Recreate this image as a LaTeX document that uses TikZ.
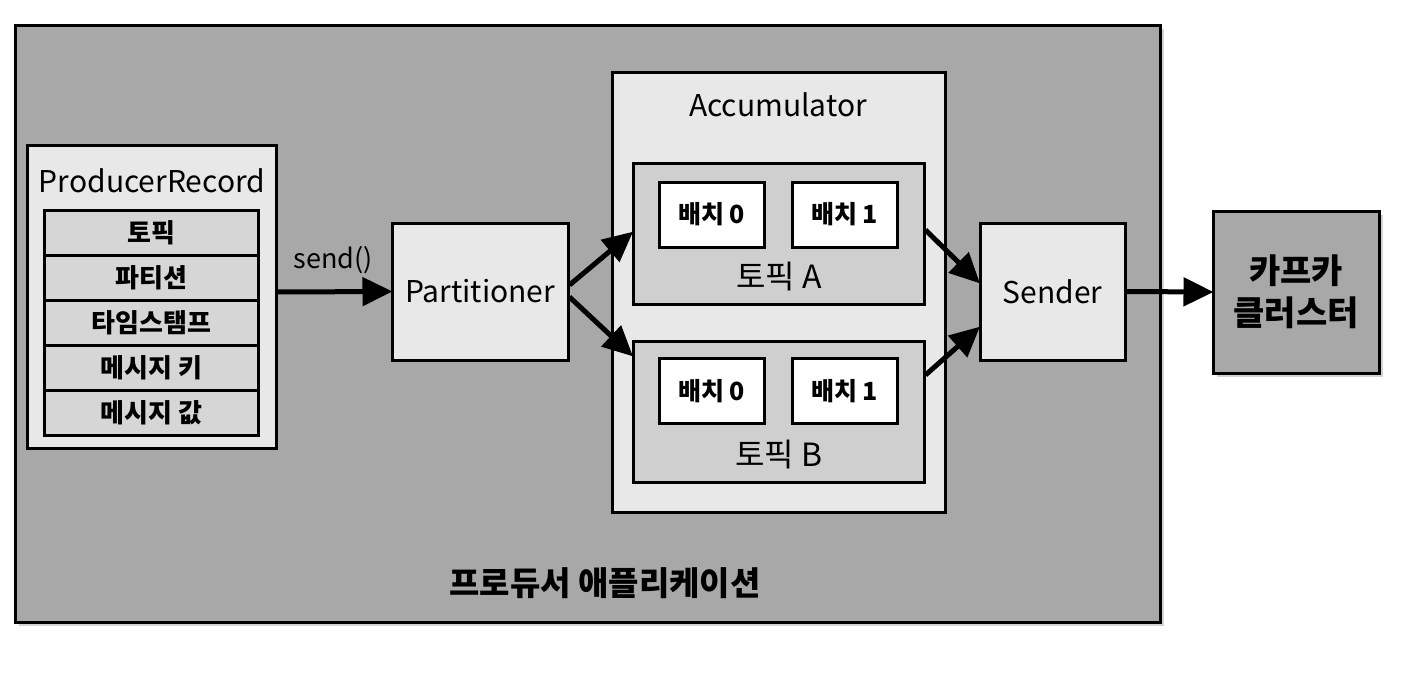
\documentclass[tikz,border=0pt]{standalone}
\usepackage{fontspec}
\setmainfont{Noto Sans CJK KR}
\usetikzlibrary{arrows.meta,shadows}
\definecolor{bgdark}{gray}{0.66}
\definecolor{boxlight}{gray}{0.91}
\definecolor{rowgray}{gray}{0.84}
\definecolor{topicgray}{gray}{0.81}
\tikzset{
  box/.style={draw=black, line width=3pt, inner sep=0pt},
  lbl/.style={font=\fontsize{30}{33}\selectfont, inner sep=0pt},
  row/.style={box, fill=rowgray, minimum width=214pt, minimum height=45pt, font=\bfseries\fontsize{26}{28}\selectfont},
  batch/.style={box, fill=white, minimum width=105pt, minimum height=65pt, font=\bfseries\fontsize{25}{28}\selectfont},
  conn/.style={line width=5pt, -{Triangle[length=30pt,width=28pt]}, shorten >=-2pt},
}
\begin{document}
\begin{tikzpicture}[x=1pt,y=-1pt]
\useasboundingbox (0,0) rectangle (1412,686);
% outer application box
\draw[box, fill=bgdark, drop shadow={opacity=0.35, shadow xshift=4pt, shadow yshift=-4pt}] (15,25) rectangle (1160,622);
\node[font=\bfseries\fontsize{33}{36}\selectfont] (app) at (605,583) {프로듀서 애플리케이션};

% ProducerRecord
\draw[box, fill=boxlight] (27,145) rectangle (276,448);
\node[lbl] (prtitle) at (152,181) {ProducerRecord};
\node[row] (r1) at (151.5,233) {토픽};
\node[row] (r2) at (151.5,278) {파티션};
\node[row] (r3) at (151.5,323) {타임스탬프};
\node[row] (r4) at (151.5,368) {메시지 키};
\node[row] (r5) at (151.5,413) {메시지 값};
\coordinate (prR) at (276,292);

% Partitioner
\node[box, fill=boxlight, minimum width=176pt, minimum height=137pt, font=\fontsize{30}{33}\selectfont] (part) at (480,291.5) {Partitioner};

% Accumulator
\node[box, fill=boxlight, minimum width=333pt, minimum height=440pt] (acc) at (778.5,292) {};
\node[lbl] (acctitle) at (778,105) {Accumulator};
\node[box, fill=topicgray, minimum width=291pt, minimum height=141pt] (ta) at (778.5,233.5) {};
\node[box, fill=topicgray, minimum width=291pt, minimum height=141pt] (tb) at (778.5,412) {};
\node[batch] (a0) at (711.5,214.5) {배치 0};
\node[batch] (a1) at (844.5,214.5) {배치 1};
\node[batch] (b0) at (711.5,391) {배치 0};
\node[batch] (b1) at (844.5,391) {배치 1};
\node[lbl, font=\fontsize{32}{35}\selectfont] (talbl) at (779,277) {토픽 A};
\node[lbl, font=\fontsize{32}{35}\selectfont] (tblbl) at (779,455) {토픽 B};

% Sender
\node[box, fill=boxlight, minimum width=145pt, minimum height=137pt, font=\fontsize{30}{33}\selectfont] (send) at (1052.5,291.5) {Sender};

% Kafka cluster
\node[box, fill=bgdark, minimum width=166pt, minimum height=162pt, align=center, font=\bfseries\fontsize{34}{42}\selectfont, drop shadow={opacity=0.35, shadow xshift=4pt, shadow yshift=-4pt}] (kafka) at (1296,292) {카프카\\클러스터};

% connectors
\draw[conn] (prR) -- (part.west) node[midway, above=15pt, font=\fontsize{27}{29}\selectfont, inner sep=0pt] {send()};
\draw[conn] (part.east |- 0,285) -- (ta.west |- 0,233);
\draw[conn] (part.east |- 0,297) -- (tb.west |- 0,355);
\draw[conn] (ta.east |- 0,230) -- (send.west |- 0,282);
\draw[conn] (tb.east |- 0,375) -- (send.west |- 0,328);
\draw[conn] (send.east) -- (kafka.west);
\end{tikzpicture}
\end{document}
